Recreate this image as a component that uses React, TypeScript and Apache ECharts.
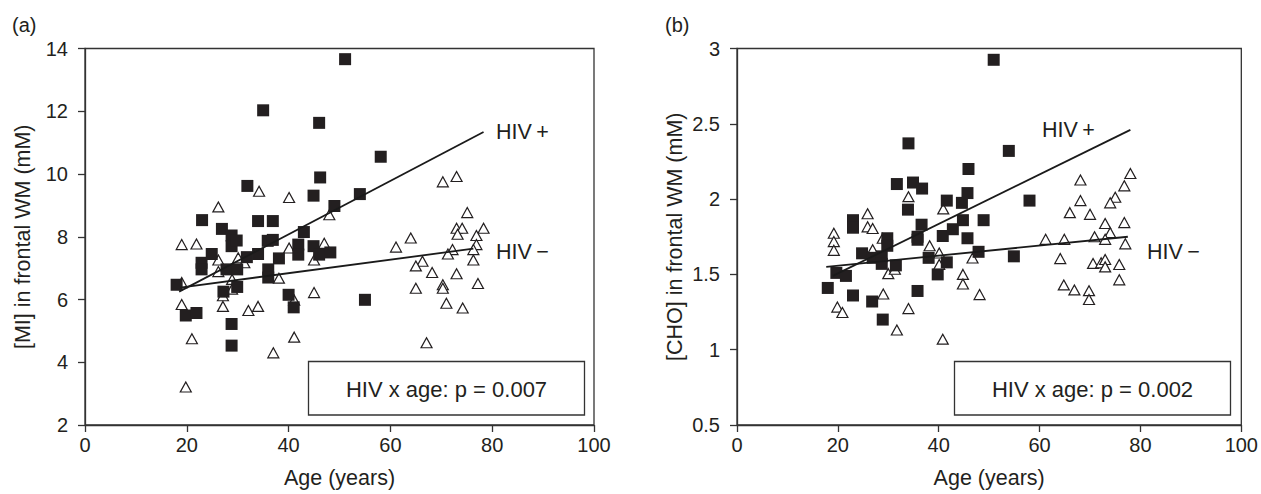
import React, { useEffect, useRef } from "react";
import * as echarts from "echarts";

// ---- Panel (a): [MI] ----
const miPosAge = [18.0, 19.8, 21.9, 22.9, 22.9, 23.0, 24.9, 26.9, 27.2, 27.8, 28.8, 28.8, 28.8, 28.8, 29.8, 29.9, 29.9, 31.9, 31.8, 34.0, 34.0, 35.0, 35.9, 36.0, 36.0, 36.9, 36.9, 38.1, 40.0, 41.0, 41.9, 41.9, 43.0, 44.9, 44.9, 46.0, 46.2, 46.0, 48.2, 49.0, 51.1, 54.0, 55.0, 58.1];
const miPosVal = [6.47, 5.49, 5.57, 7.17, 6.96, 8.53, 7.45, 8.25, 6.25, 6.96, 8.04, 7.70, 5.22, 4.53, 7.88, 6.96, 6.40, 9.62, 7.35, 7.45, 8.50, 12.03, 7.87, 6.96, 6.70, 8.50, 7.90, 7.31, 6.15, 5.75, 7.75, 7.43, 8.15, 9.31, 7.70, 11.63, 9.89, 7.43, 7.50, 8.98, 13.66, 9.36, 5.99, 10.55];
const miNegAge = [34.2, 40.1, 26.2, 48.0, 19.0, 21.9, 47.0, 40.1, 26.2, 30.1, 31.3, 26.2, 45.0, 28.9, 19.0, 38.1, 28.9, 27.1, 41.1, 45.0, 19.0, 27.1, 32.1, 34.0, 21.0, 41.1, 37.0, 19.8, 70.3, 73.0, 75.1, 73.0, 74.1, 78.3, 73.2, 76.9, 64.0, 61.1, 76.9, 72.2, 71.3, 76.3, 66.3, 65.0, 76.3, 68.2, 73.0, 65.0, 70.3, 70.3, 77.2, 71.0, 74.2, 67.1];
const miNegVal = [9.45, 9.25, 8.95, 8.70, 7.75, 7.77, 7.79, 7.64, 7.26, 7.33, 7.17, 6.89, 7.26, 6.64, 6.54, 6.68, 6.33, 6.12, 5.98, 6.22, 5.84, 5.78, 5.65, 5.78, 4.75, 4.80, 4.30, 3.21, 9.75, 9.92, 8.77, 8.27, 8.27, 8.27, 8.08, 8.04, 7.96, 7.67, 7.75, 7.59, 7.45, 7.59, 7.22, 7.07, 7.26, 6.86, 6.82, 6.36, 6.47, 6.36, 6.51, 5.88, 5.73, 4.62];
const miFitPosAge = [18.5, 78.3];
const miFitPosVal = [6.25, 11.34];
const miFitNegAge = [18.7, 76.3];
const miFitNegVal = [6.38, 7.62];

// ---- Panel (b): [CHO] ----
const choPosAge = [18.0, 19.7, 21.6, 23.0, 23.0, 23.0, 24.8, 26.9, 26.8, 28.7, 28.7, 28.9, 29.8, 29.8, 31.5, 31.7, 33.9, 34.0, 34.9, 35.8, 35.8, 35.8, 36.7, 36.6, 38.0, 39.8, 40.8, 41.6, 41.6, 42.8, 44.6, 44.8, 45.7, 45.9, 45.7, 47.9, 48.9, 50.9, 53.9, 54.9, 58.0];
const choPosVal = [1.41, 1.51, 1.49, 1.86, 1.81, 1.36, 1.64, 1.61, 1.32, 1.62, 1.57, 1.20, 1.74, 1.69, 1.56, 2.10, 1.93, 2.37, 2.11, 1.75, 1.73, 1.39, 2.07, 1.83, 1.61, 1.50, 1.755, 1.99, 1.58, 1.80, 1.975, 1.86, 2.04, 2.20, 1.74, 1.65, 1.86, 2.925, 2.32, 1.62, 1.99];
const choNegAge = [34.0, 25.9, 25.9, 26.9, 19.2, 19.2, 19.2, 40.9, 28.9, 38.2, 26.9, 40.1, 40.1, 46.7, 30.0, 31.3, 44.8, 44.8, 29.0, 48.1, 19.9, 20.9, 34.0, 31.7, 40.8, 78.0, 68.1, 76.8, 75.0, 74.0, 68.1, 66.0, 70.0, 73.0, 76.8, 74.0, 61.2, 64.9, 70.9, 73.0, 77.0, 64.1, 70.6, 72.2, 73.0, 73.0, 75.8, 75.8, 64.8, 66.9, 69.8, 69.8];
const choNegVal = [2.016, 1.903, 1.816, 1.805, 1.773, 1.718, 1.66, 1.935, 1.74, 1.69, 1.664, 1.642, 1.566, 1.609, 1.505, 1.534, 1.50, 1.436, 1.37, 1.366, 1.283, 1.247, 1.273, 1.131, 1.07, 2.17, 2.127, 2.088, 2.012, 1.975, 1.99, 1.91, 1.899, 1.838, 1.844, 1.777, 1.733, 1.733, 1.75, 1.733, 1.703, 1.605, 1.573, 1.577, 1.599, 1.55, 1.566, 1.464, 1.43, 1.397, 1.392, 1.333];
const choFitPosAge = [19, 78];
const choFitPosVal = [1.49, 2.46];
const choFitNegAge = [17.7, 77.5];
const choFitNegVal = [1.55, 1.75];

const xTitle = "Age (years)";
const yTitles = ["[MI] in frontal WM (mM)", "[CHO] in frontal WM (mM)"];
const pTexts = ["HIV x age: p = 0.007", "HIV x age: p = 0.002"];
const panelTags = ["(a)", "(b)"];

const zip = (a: number[], b: number[]) => a.map((v, i) => [v, b[i]]);

const FONT = "'Liberation Sans', Arial, Helvetica, sans-serif";
const TXT = "#231f20";
const AX = "#333333";

export default function App() {
  const ref = useRef<HTMLDivElement>(null);
  useEffect(() => {
    if (!ref.current) return;
    const chart = echarts.init(ref.current, undefined, { renderer: "svg" });
    const axisCommon = {
      axisLine: { show: true, lineStyle: { color: AX, width: 1.3 } },
      axisTick: { show: true, inside: false, length: 7, lineStyle: { color: AX, width: 1.3 } },
      splitLine: { show: false },
      axisLabel: { color: TXT, fontSize: 20, fontFamily: FONT },
      nameTextStyle: { color: TXT, fontSize: 21.5, fontFamily: FONT },
    };
    const xAxis = [0, 1].map((g) => ({
      ...axisCommon,
      type: "value",
      gridIndex: g,
      min: 0,
      max: 100,
      interval: 20,
      name: xTitle,
      nameLocation: "middle",
      nameGap: 42,
      axisLabel: { ...axisCommon.axisLabel, margin: 10 },
    }));
    const yAxis = [
      { min: 2, max: 14, interval: 2 },
      { min: 0.5, max: 3, interval: 0.5 },
    ].map((r, g) => ({
      ...axisCommon,
      type: "value",
      gridIndex: g,
      ...r,
      name: yTitles[g],
      nameLocation: "middle",
      nameGap: 51,
      axisLabel: { ...axisCommon.axisLabel, margin: 17 },
    }));
    const sq = (g: number, data: number[][]) => ({
      type: "scatter",
      xAxisIndex: g,
      yAxisIndex: g,
      symbol: "rect",
      symbolSize: 12,
      itemStyle: { color: "#231f20", opacity: 1 },
      data,
      z: 3,
    });
    const tri = (g: number, data: number[][]) => ({
      type: "scatter",
      xAxisIndex: g,
      yAxisIndex: g,
      symbol: "triangle",
      symbolSize: [11, 10],
      itemStyle: { color: "#ffffff", borderColor: "#231f20", borderWidth: 1.2, opacity: 1 },
      data,
      z: 2,
    });
    const fit = (g: number, data: number[][]) => ({
      type: "line",
      xAxisIndex: g,
      yAxisIndex: g,
      symbol: "none",
      lineStyle: { color: "#1a1a1a", width: 1.8 },
      data,
      z: 4,
    });
    const txt = (text: string, x: number, y: number, align = "left", size = 21.5) => ({
      type: "text",
      x,
      y,
      style: { text, fontSize: size, fontFamily: FONT, fill: TXT, align, verticalAlign: "middle" },
    });
    const box = (x: number, y: number, w: number, h: number) => ({
      type: "rect",
      shape: { x, y, width: w, height: h },
      style: { fill: "#fff", stroke: AX, lineWidth: 1.3 },
      z: 10,
    });
    chart.setOption({
      animation: false,
      backgroundColor: "#ffffff",
      grid: [
        { left: 85, top: 48.5, width: 509, height: 380.5, show: true, borderColor: AX, borderWidth: 1.3, backgroundColor: "transparent" },
        { left: 737, top: 48.5, width: 505, height: 380.5, show: true, borderColor: AX, borderWidth: 1.3, backgroundColor: "transparent" },
      ],
      xAxis,
      yAxis,
      series: [
        tri(0, zip(miNegAge, miNegVal)),
        sq(0, zip(miPosAge, miPosVal)),
        fit(0, zip(miFitPosAge, miFitPosVal)),
        fit(0, zip(miFitNegAge, miFitNegVal)),
        tri(1, zip(choNegAge, choNegVal)),
        sq(1, zip(choPosAge, choPosVal)),
        fit(1, zip(choFitPosAge, choFitPosVal)),
        fit(1, zip(choFitNegAge, choFitNegVal)),
      ],
      graphic: [
        txt(panelTags[0], 12, 25, "left", 20),
        txt(panelTags[1], 665, 25, "left", 20),
        txt("HIV\u2009+", 496, 132),
        txt("HIV\u2009\u2212", 496, 252),
        txt("HIV\u2009+", 1042, 130),
        txt("HIV\u2009\u2212", 1147, 252),
        box(308.5, 361.5, 276, 53.5),
        box(954.5, 361.5, 276, 53.5),
        { ...txt(pTexts[0], 446.5, 389, "center", 22), z: 11 },
        { ...txt(pTexts[1], 1092.5, 389, "center", 22), z: 11 },
      ],
    });
    return () => chart.dispose();
  }, []);
  return <div ref={ref} style={{ position: "fixed", left: 0, top: 0, width: 1261, height: 494 }} />;
}
